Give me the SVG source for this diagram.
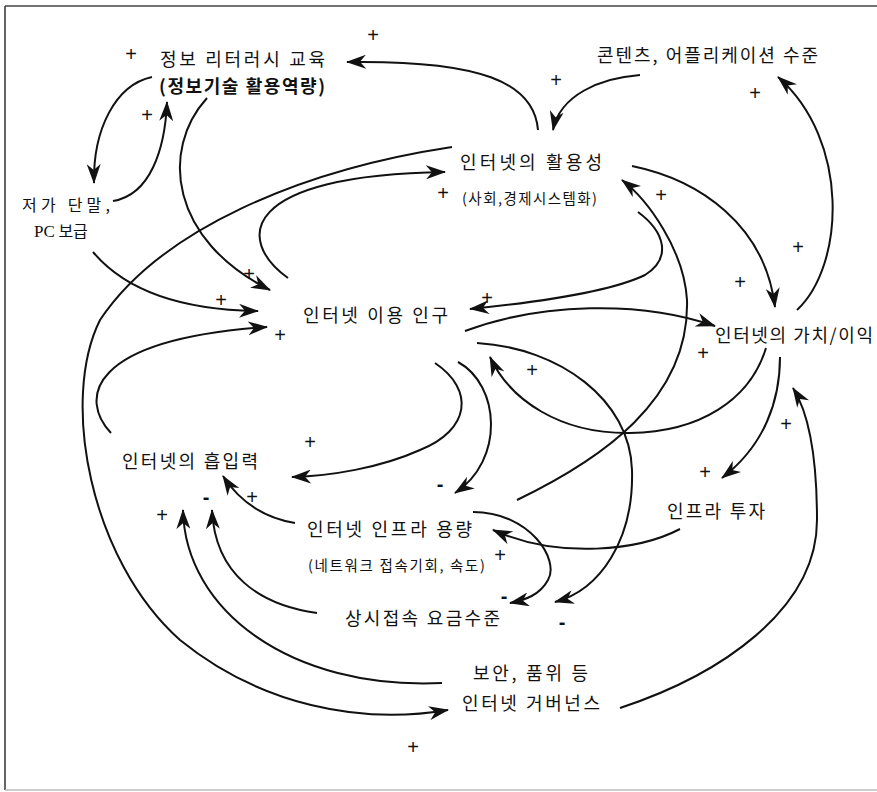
<svg xmlns="http://www.w3.org/2000/svg" width="877" height="792" viewBox="0 0 877 792">
<style>
.n{font-family:"Noto Sans CJK KR","Noto Sans",sans-serif;font-size:18px;fill:#111}
.s{font-size:14.5px}
.d{font-size:16px}
.b{font-weight:bold}
.c{fill:none;stroke:#111;stroke-width:2;marker-end:url(#ah)}
.p{font-family:"Liberation Sans",Arial,sans-serif;font-size:20px;fill:#111;text-anchor:middle}
.m{font-weight:bold}
</style>
<defs>
<marker id="ah" viewBox="0 0 20 14" markerWidth="20" markerHeight="14" refX="19" refY="7" orient="auto" markerUnits="userSpaceOnUse">
<path d="M0,0 L20,7 L0,14 L6,7 Z" fill="#111"/>
</marker>
</defs>
<rect width="877" height="792" fill="#fff"/>
<g id="frame" fill="none">
<line x1="5" y1="6" x2="877" y2="6" stroke="#444" stroke-width="1.5"/>
<line x1="5" y1="6" x2="5" y2="790" stroke="#333" stroke-width="1.5"/>
<line x1="5" y1="790" x2="877" y2="790" stroke="#bbb" stroke-width="1.5"/>
</g>
<g id="connectors">
<path class="c" d="M538,130 C534,82 480,60 347,62"/>
<path class="c" d="M640,75 C600,78 560,95 553,130"/>
<path class="c" d="M797,310 C845,265 850,140 778,77"/>
<path class="c" d="M632,166 C700,180 765,225 775,307"/>
<path class="c" d="M517,500 C600,460 690,400 687,300 C684,250 648,200 622,180"/>
<path class="c" d="M638,212 C665,232 672,258 645,275 C610,292 540,302 470,309"/>
<path class="c" d="M465,331 C540,303 640,300 715,326"/>
<path class="c" d="M477,343 C560,348 630,400 632,470 C634,540 600,590 555,602"/>
<path class="c" d="M766,348 C750,400 700,432 630,433 C560,434 510,400 490,357"/>
<path class="c" d="M780,357 C780,400 765,445 722,478"/>
<path class="c" d="M620,708 C720,675 817,610 817,520 C817,460 810,415 793,388"/>
<path class="c" d="M680,529 C640,550 560,560 493,530"/>
<path class="c" d="M473,512 C530,512 560,560 548,580 C540,595 525,600 510,603"/>
<path class="c" d="M458,362 C500,385 505,460 455,493"/>
<path class="c" d="M435,363 C475,390 470,430 420,450 C380,468 330,476 292,477"/>
<path class="c" d="M295,523 C265,518 240,502 223,476"/>
<path class="c" d="M317,613 C260,605 215,575 212,510"/>
<path class="c" d="M442,683 C290,690 185,610 183,510"/>
<path class="c" d="M452,147 C300,170 160,230 100,320 C60,400 90,560 180,640 C260,705 360,725 448,710"/>
<path class="c" d="M288,278 C235,240 240,175 445,172"/>
<path class="c" d="M207,98 C160,150 170,240 270,290"/>
<path class="c" d="M93,252 C125,290 180,310 258,311"/>
<path class="c" d="M111,433 C80,400 85,340 267,327"/>
<path class="c" d="M152,77 C115,85 93,130 94,183"/>
<path class="c" d="M113,201 C150,195 165,150 167,102"/>
</g>
<g id="polarity">
<text class="p" x="131" y="61">+</text>
<text class="p" x="373" y="42">+</text>
<text class="p" x="147" y="122">+</text>
<text class="p" x="556" y="87">+</text>
<text class="p" x="755" y="100">+</text>
<text class="p" x="443" y="200">+</text>
<text class="p" x="661" y="202">+</text>
<text class="p" x="798" y="254">+</text>
<text class="p" x="740" y="289">+</text>
<text class="p" x="249" y="281">+</text>
<text class="p" x="221" y="307">+</text>
<text class="p" x="280" y="342">+</text>
<text class="p" x="487" y="305">+</text>
<text class="p" x="703" y="360">+</text>
<text class="p" x="532" y="377">+</text>
<text class="p" x="786" y="431">+</text>
<text class="p" x="705" y="479">+</text>
<text class="p" x="310" y="449">+</text>
<text class="p" x="252" y="504">+</text>
<text class="p" x="162" y="522">+</text>
<text class="p" x="500" y="562">+</text>
<text class="p" x="413" y="754">+</text>
<text class="p m" x="440" y="491">-</text>
<text class="p m" x="206" y="504">-</text>
<text class="p m" x="504" y="603">-</text>
<text class="p m" x="562" y="629">-</text>
</g>
<g id="node-literacy">
<text class="n" x="160" y="66" textLength="165" lengthAdjust="spacing">정보 리터러시 교육</text>
<text class="n b" x="159" y="93" textLength="166" lengthAdjust="spacing">(정보기술 활용역량)</text>
</g>
<g id="node-contents">
<text class="n" x="597" y="62" textLength="221" lengthAdjust="spacing">콘텐츠, 어플리케이션 수준</text>
</g>
<g id="node-usability">
<text class="n" x="460" y="169" textLength="142" lengthAdjust="spacing">인터넷의 활용성</text>
<text class="n s" x="462" y="204" textLength="135" lengthAdjust="spacing">(사회,경제시스템화)</text>
</g>
<g id="node-device">
<text class="n d" x="22" y="211" textLength="88" lengthAdjust="spacing">저가 단말,</text>
<text class="n d" x="34" y="237"><tspan style="font-family:'Liberation Serif',serif;font-size:17px">PC</tspan> 보급</text>
</g>
<g id="node-population">
<text class="n" x="303" y="322" textLength="145" lengthAdjust="spacing">인터넷 이용 인구</text>
</g>
<g id="node-value">
<text class="n" x="715" y="342" textLength="158" lengthAdjust="spacing">인터넷의 가치/이익</text>
</g>
<g id="node-attraction">
<text class="n" x="122" y="468" textLength="136" lengthAdjust="spacing">인터넷의 흡입력</text>
</g>
<g id="node-capacity">
<text class="n" x="307" y="536" textLength="165" lengthAdjust="spacing">인터넷 인프라 용량</text>
<text class="n s" x="308" y="571" textLength="177" lengthAdjust="spacing">(네트워크 접속기회, 속도)</text>
</g>
<g id="node-investment">
<text class="n" x="667" y="518" textLength="98" lengthAdjust="spacing">인프라 투자</text>
</g>
<g id="node-price">
<text class="n" x="345" y="625" textLength="155" lengthAdjust="spacing">상시접속 요금수준</text>
</g>
<g id="node-governance">
<text class="n" x="473" y="680" textLength="115" lengthAdjust="spacing">보안, 품위 등</text>
<text class="n" x="462" y="710" textLength="138" lengthAdjust="spacing">인터넷 거버넌스</text>
</g>
</svg>
